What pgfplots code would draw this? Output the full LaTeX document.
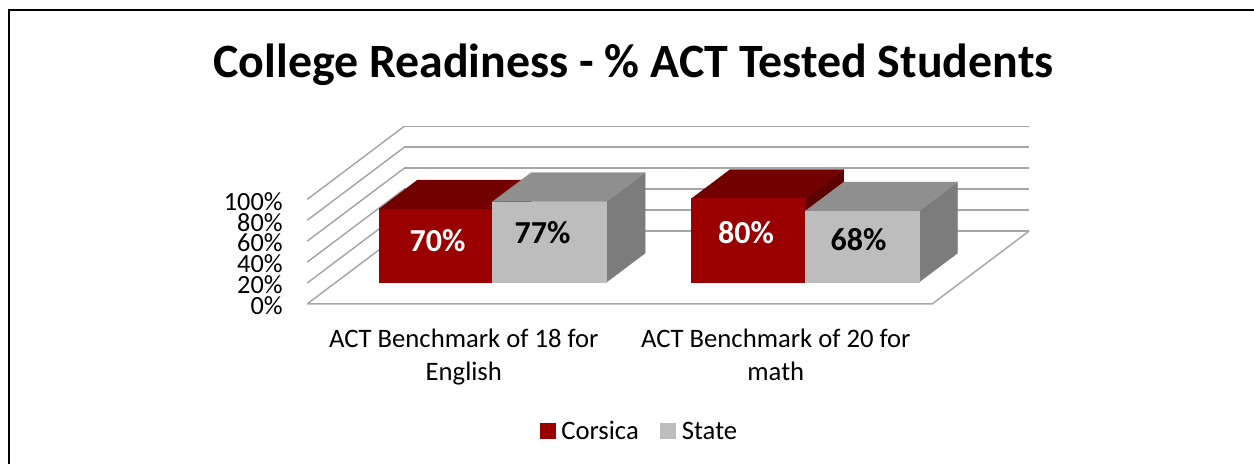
\documentclass[border=0pt]{standalone}
\usepackage{pgfplots}
\pgfplotsset{compat=1.18}
\usepackage{fontspec}
\setmainfont{Carlito}
\definecolor{redF}{HTML}{9A0000}
\definecolor{redT}{HTML}{730000}
\definecolor{redS}{HTML}{5C0000}
\definecolor{grayF}{HTML}{BDBDBD}
\definecolor{grayT}{HTML}{8F8F8F}
\definecolor{grayS}{HTML}{7C7C7C}
\definecolor{gridc}{HTML}{A6A6A6}
% one 3D box: x from #1 to #2, value #3, colours #4 #5 #6 (front, top, side)
\newcommand{\barbox}[6]{%
  \addplot3[fill=#6,draw=#6,line width=0.2pt,forget plot] coordinates {(#2,0.297,0)(#2,0.694,0)(#2,0.694,#3)(#2,0.297,#3)} --cycle;
  \addplot3[fill=#5,draw=#5,line width=0.2pt,forget plot] coordinates {(#1,0.297,#3)(#2,0.297,#3)(#2,0.694,#3)(#1,0.694,#3)} --cycle;
  \addplot3[fill=#4,draw=#4,line width=0.2pt,forget plot] coordinates {(#1,0.297,0)(#2,0.297,0)(#2,0.297,#3)(#1,0.297,#3)} --cycle;
}
\begin{document}
\begin{tikzpicture}[x=0.75pt,y=0.75pt]
\useasboundingbox (0,0) rectangle (1254,464);
\draw[black,line width=1.5pt] (9,0) -- (9,454) -- (1254,454);
\node[font=\bfseries\fontsize{35.9}{38}\selectfont,anchor=center] at (633.5,399) {College Readiness - \% ACT Tested Students};
\begin{axis}[
  at={(94.5,219.4)}, anchor=origin,
  x={(0.75pt,0pt)}, y={(72.75pt,54.75pt)}, z={(0pt,0.784pt)},
  xmin=0,xmax=625,ymin=0,ymax=1,zmin=0,zmax=100,
  clip=false,
  axis line style={draw=none},
  major tick length=0pt,
  xtick={156.5,468.5},
  xticklabels={{ACT Benchmark of 18 for\\English},{ACT Benchmark of 20 for\\math}},
  x tick label style={align=center,font=\fontsize{20}{24.75}\selectfont,anchor=north,yshift=-15pt},
  ytick=\empty,
  ztick={0,20,40,60,80,100},
  zticklabels={0\%,20\%,40\%,60\%,80\%,100\%},
  z tick label style={font=\fontsize{19.7}{20}\selectfont,anchor=east,xshift=-15pt,yshift=-1.5pt},
  zmajorgrids,
  grid style={draw=gridc,line width=1.1pt},
  legend columns=2,
  legend style={draw=none,fill=none,at={(axis cs:228,0,-121.6)},anchor=west,font=\fontsize{20}{20}\selectfont,
    nodes={text height=16pt,text depth=2.5pt},
    /tikz/every even column/.append style={column sep=14pt}},
  legend image code/.code={\fill[#1,draw=none] (0pt,-6pt) rectangle (12pt,6pt); \path[draw=none,fill=none] (0pt,0pt) -- (14.3pt,0pt);},
]
\addplot3[draw=gridc,line width=1.1pt,forget plot] coordinates {(0,0,0)(625,0,0)(625,1,0)};
\barbox{42.9}{156.5}{70}{redF}{redT}{redS}
\barbox{355.5}{469.2}{80}{redF}{redT}{redS}
\barbox{156.5}{270.5}{77}{grayF}{grayT}{grayS}
\barbox{469.2}{582.9}{68}{grayF}{grayT}{grayS}
\addlegendimage{fill=redF}
\addlegendentry{Corsica}
\addlegendimage{fill=grayF}
\addlegendentry{State}
\node[font=\bfseries\fontsize{24}{24}\selectfont,text=white] at (axis cs:101.5,0.297,39.5) {70\%};
\node[font=\bfseries\fontsize{24}{24}\selectfont,text=black] at (axis cs:206.5,0.297,47) {77\%};
\node[font=\bfseries\fontsize{24}{24}\selectfont,text=white] at (axis cs:410,0.297,47) {80\%};
\node[font=\bfseries\fontsize{24}{24}\selectfont,text=black] at (axis cs:522.5,0.297,41) {68\%};
\end{axis}
\end{tikzpicture}
\end{document}
